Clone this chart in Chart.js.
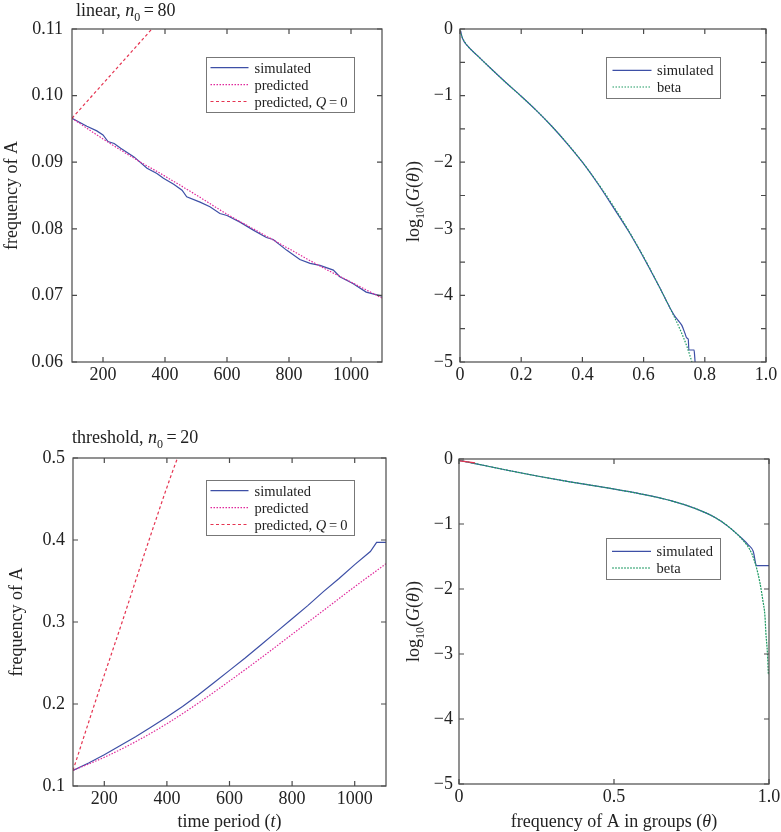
<!DOCTYPE html>
<html>
<head>
<meta charset="utf-8">
<title>frequency of A</title>
<script src="https://cdn.jsdelivr.net/npm/chart.js@4.4.1/dist/chart.umd.min.js"></script>
<style>
  body { margin: 0; background: #fff; }
  #wrap { position: relative; width: 781px; height: 832px; overflow: hidden; background: #fff; }
  #wrap canvas { position: absolute; }
</style>
</head>
<body>
<div id="wrap">
  <canvas id="cLin" width="390" height="410" style="left:0;top:0"></canvas>
  <canvas id="cLinG" width="391" height="410" style="left:390px;top:0"></canvas>
  <canvas id="cThr" width="390" height="422" style="left:0;top:410px"></canvas>
  <canvas id="cThrG" width="391" height="422" style="left:390px;top:410px"></canvas>
</div>
<script>
'use strict';

// =========================================
// DATA
// =========================================

// top-left: linear, n0 = 80  (time period t -> frequency of A)
var linSimT  = [100, 148, 180, 200, 216, 236, 257, 300, 342, 374, 395, 428, 455, 470, 513, 545, 577, 600, 642, 685, 727, 749, 792, 835, 868, 900, 943, 964, 1006, 1049, 1100];
var linSimF  = [0.0966, 0.0954, 0.0947, 0.0941, 0.0931, 0.0928, 0.0921, 0.0908, 0.0891, 0.0883, 0.0876, 0.0867, 0.0858, 0.0848, 0.0840, 0.0833, 0.0823, 0.0820, 0.0810, 0.0798, 0.0787, 0.0784, 0.0768, 0.0754, 0.0748, 0.0745, 0.0738, 0.0728, 0.0718, 0.0705, 0.0699];
var linPredT = [100, 200, 300, 400, 500, 600, 700, 800, 900, 1000, 1100];
var linPredF = [0.0966, 0.0935, 0.0906, 0.0879, 0.0851, 0.0822, 0.0796, 0.0770, 0.0744, 0.0720, 0.0696];
var linQ0T   = [100, 200, 300, 400];
var linQ0F   = [0.0966, 0.1018, 0.1070, 0.1122];

// top-right: log10(G(theta)) for the linear case
var linSimTh  = [0.002, 0.008, 0.024, 0.057, 0.1, 0.149, 0.2, 0.25, 0.3, 0.35, 0.4, 0.45, 0.5, 0.55, 0.6, 0.65, 0.7, 0.712, 0.725, 0.736, 0.741, 0.746, 0.748, 0.765, 0.767, 0.769];
var linSimG   = [-0.03, -0.14, -0.25, -0.40, -0.59, -0.80, -1.01, -1.225, -1.46, -1.72, -2.0, -2.32, -2.67, -3.03, -3.43, -3.86, -4.30, -4.37, -4.45, -4.58, -4.64, -4.66, -4.82, -4.82, -4.92, -5.05];
var linBetaTh = [0, 0.008, 0.024, 0.057, 0.1, 0.149, 0.2, 0.25, 0.3, 0.35, 0.4, 0.45, 0.5, 0.55, 0.6, 0.65, 0.7, 0.72, 0.741, 0.758];
var linBetaG  = [-0.03, -0.13, -0.25, -0.40, -0.59, -0.80, -1.01, -1.225, -1.46, -1.715, -2.0, -2.31, -2.65, -3.02, -3.42, -3.86, -4.32, -4.52, -4.76, -5.0];

// bottom-left: threshold, n0 = 20
var thrSimT  = [100, 150, 200, 250, 300, 350, 400, 450, 500, 550, 600, 650, 700, 750, 800, 850, 900, 950, 1000, 1050, 1070, 1100];
var thrSimF  = [0.119, 0.128, 0.138, 0.149, 0.160, 0.172, 0.184, 0.197, 0.211, 0.226, 0.241, 0.256, 0.272, 0.288, 0.304, 0.320, 0.337, 0.353, 0.370, 0.386, 0.397, 0.397];
var thrPredT = [100, 200, 300, 400, 500, 600, 700, 800, 900, 1000, 1100];
var thrPredF = [0.119, 0.135, 0.154, 0.176, 0.201, 0.228, 0.256, 0.285, 0.314, 0.343, 0.371];
var thrQ0T   = [100, 169, 257, 343, 434, 445];
var thrQ0F   = [0.119, 0.2, 0.3, 0.4, 0.5, 0.51];

// bottom-right: log10(G(theta)) for the threshold case
var thrSimTh  = [0, 0.052, 0.148, 0.256, 0.363, 0.492, 0.589, 0.686, 0.761, 0.826, 0.869, 0.912, 0.933, 0.949, 0.96, 1.0];
var thrSimG   = [-0.02, -0.07, -0.165, -0.265, -0.355, -0.455, -0.54, -0.645, -0.76, -0.9, -1.04, -1.22, -1.32, -1.42, -1.64, -1.64];
var thrBetaTh = [0, 0.052, 0.148, 0.256, 0.363, 0.492, 0.589, 0.686, 0.761, 0.826, 0.869, 0.912, 0.944, 0.96, 0.971, 0.98, 0.987, 0.99, 0.995, 0.998];
var thrBetaG  = [-0.02, -0.07, -0.165, -0.265, -0.355, -0.455, -0.54, -0.645, -0.76, -0.9, -1.04, -1.23, -1.45, -1.68, -1.91, -2.17, -2.42, -2.68, -2.99, -3.32];
var thrRedTh  = [0.003, 0.052];
var thrRedG   = [-0.03, -0.06];

// tick labels
var timeTicks    = [200, 400, 600, 800, 1000];
var linFreqTicks = [0.06, 0.07, 0.08, 0.09, 0.10, 0.11];
var thrFreqTicks = [0.1, 0.2, 0.3, 0.4, 0.5];
var thetaTicksFine   = [0, 0.2, 0.4, 0.6, 0.8, 1.0];
var thetaTicksCoarse = [0, 0.5, 1.0];
var logTicks     = [0, -1, -2, -3, -4, -5];
var logMarksHalf = [0, -0.5, -1, -1.5, -2, -2.5, -3, -3.5, -4, -4.5, -5];

// texts (t = text, i = italic, sub = subscript)
var titleLin = [{ t: 'linear, ' }, { t: 'n', i: 1 }, { t: '0', sub: 1 }, { t: '\u2009=\u200980' }];
var titleThr = [{ t: 'threshold, ' }, { t: 'n', i: 1 }, { t: '0', sub: 1 }, { t: '\u2009=\u200920' }];
var yTitleFreq  = [{ t: 'frequency of A' }];
var yTitleLog   = [{ t: 'log' }, { t: '10', sub: 1 }, { t: '(' }, { t: 'G', i: 1 }, { t: '(' }, { t: '\u03b8', i: 1 }, { t: '))' }];
var xTitleTime  = [{ t: 'time period (' }, { t: 't', i: 1 }, { t: ')' }];
var xTitleTheta = [{ t: 'frequency of A in groups (' }, { t: '\u03b8', i: 1 }, { t: ')' }];
var legSim   = [{ t: 'simulated' }];
var legPred  = [{ t: 'predicted' }];
var legPredQ = [{ t: 'predicted, ' }, { t: 'Q', i: 1 }, { t: '\u2009=\u20090' }];
var legBeta  = [{ t: 'beta' }];

// =========================================
// STYLE
// =========================================
var SERIF = '"Liberation Serif", "Times New Roman", "DejaVu Serif", serif';
var INK = '#222';
var FRAME = '#4a4a4a';
var C_SIM = '#3d4fa6';
var C_PRED = '#e0289b';
var C_Q0 = '#e53451';
var C_BETA = '#1d9a62';

function pts(xs, ys) {
    return xs.map(function(x, i) { return { x: x, y: ys[i] }; });
}

function series(label, xs, ys, color, dash, order, smooth) {
    return {
        label: label,
        data: pts(xs, ys),
        borderColor: color,
        borderDash: dash,
        borderWidth: 1.2,
        pointRadius: 0,
        tension: smooth ? 0.4 : 0,
        cubicInterpolationMode: smooth ? 'monotone' : 'default',
        fill: false,
        order: order
    };
}

function segFont(s, size) {
    return (s.i ? 'italic ' : '') + (s.sub ? Math.round(size * 0.68) : size) + 'px ' + SERIF;
}

// draws mixed italic / subscript text, baseline at (x, y)
function drawRich(ctx, segs, x, y, size, align, angle) {
    ctx.save();
    ctx.translate(x, y);
    if (angle) ctx.rotate(angle);
    ctx.textBaseline = 'alphabetic';
    ctx.textAlign = 'left';
    ctx.fillStyle = INK;
    var total = 0;
    segs.forEach(function(s) { ctx.font = segFont(s, size); total += ctx.measureText(s.t).width; });
    var cx = align === 'center' ? -total / 2 : 0;
    segs.forEach(function(s) {
        ctx.font = segFont(s, size);
        ctx.fillText(s.t, cx, s.sub ? size * 0.28 : 0);
        cx += ctx.measureText(s.t).width;
    });
    ctx.restore();
}

// =========================================
// FRAME / TICKS / LEGEND / TITLES PLUGIN
// =========================================
function framePlugin(cfg) {
    return {
        id: 'frame',
        afterDatasetsDraw: function(chart) {
            var ctx = chart.ctx, a = chart.chartArea;
            var xs = chart.scales.x, ys = chart.scales.y;
            var L = 5;

            ctx.save();
            ctx.strokeStyle = FRAME;
            ctx.lineWidth = 1.2;
            ctx.strokeRect(a.left, a.top, a.right - a.left, a.bottom - a.top);
            ctx.beginPath();
            cfg.xMarks.forEach(function(v) {
                var p = xs.getPixelForValue(v);
                ctx.moveTo(p, a.bottom); ctx.lineTo(p, a.bottom - L);
                ctx.moveTo(p, a.top); ctx.lineTo(p, a.top + L);
            });
            cfg.yMarks.forEach(function(v) {
                var p = ys.getPixelForValue(v);
                ctx.moveTo(a.left, p); ctx.lineTo(a.left + L, p);
                ctx.moveTo(a.right, p); ctx.lineTo(a.right - L, p);
            });
            ctx.stroke();

            // legend box
            var lg = cfg.legend;
            var bx = a.left + lg.left, by = a.top + lg.top;
            ctx.fillStyle = '#fff';
            ctx.fillRect(bx, by, lg.width, lg.height);
            ctx.strokeStyle = '#777';
            ctx.lineWidth = 1;
            ctx.strokeRect(Math.round(bx) + 0.5, Math.round(by) + 0.5, lg.width, lg.height);
            lg.items.forEach(function(item, i) {
                var ds = chart.data.datasets[item.ds];
                var ry = by + lg.firstRow + i * lg.rowGap;
                ctx.strokeStyle = ds.borderColor;
                ctx.lineWidth = ds.borderWidth;
                ctx.setLineDash(ds.borderDash || []);
                ctx.beginPath();
                ctx.moveTo(bx + lg.lineStart, ry);
                ctx.lineTo(bx + lg.lineStart + lg.lineLen, ry);
                ctx.stroke();
                ctx.setLineDash([]);
                drawRich(ctx, item.label, bx + lg.textX, ry + 5, 14.5, 'left', 0);
            });
            ctx.restore();

            // titles
            if (cfg.title) drawRich(ctx, cfg.title, cfg.titleX, cfg.titleY, 18, 'left', 0);
            drawRich(ctx, cfg.yTitle, cfg.yTitleX, (a.top + a.bottom) / 2 + (cfg.yTitleShift || 0), 18, 'center', -Math.PI / 2);
            if (cfg.xTitle) drawRich(ctx, cfg.xTitle, (a.left + a.right) / 2, cfg.xTitleY, 18, 'center', 0);
        }
    };
}

function axis(which, min, max, ticks, fmt, pad, size) {
    return {
        type: 'linear',
        min: min,
        max: max,
        grid: { display: false, drawTicks: false },
        border: { display: false },
        ticks: {
            color: INK,
            font: { family: SERIF, size: 18 },
            padding: pad,
            maxRotation: 0,
            autoSkip: false,
            callback: fmt
        },
        afterBuildTicks: function(s) {
            s.ticks = ticks.map(function(v) { return { value: v }; });
        },
        afterFit: function(s) {
            if (which === 'x') s.height = size; else s.width = size;
            s.paddingLeft = 0; s.paddingRight = 0; s.paddingTop = 0; s.paddingBottom = 0;
        }
    };
}

function makePanel(id, p) {
    return new Chart(document.getElementById(id), {
        type: 'line',
        data: { datasets: p.datasets },
        options: {
            responsive: false,
            animation: false,
            events: [],
            layout: { padding: { top: p.padTop, right: p.padRight, left: 0, bottom: 0 } },
            plugins: { legend: { display: false }, tooltip: { enabled: false } },
            scales: {
                x: axis('x', p.xMin, p.xMax, p.xTicks, p.xFmt, 2.5, p.xHeight),
                y: axis('y', p.yMin, p.yMax, p.yTicks, p.yFmt, p.yPad, p.yWidth)
            }
        },
        plugins: [framePlugin(p.frame)]
    });
}

function fmtInt(v) { return String(v); }
function fmt2(v) { return v.toFixed(2); }
function fmt1(v) { return v.toFixed(1); }
function fmtTheta(v) { return v === 0 ? '0' : v.toFixed(1); }
function fmtLog(v) { return v === 0 ? '0' : '\u2212' + Math.abs(v); }

var DOT = [1.5, 1.5];
var DOT_FINE = [2, 1];
var DASH = [3, 2.5];

// =========================================
// PANELS
// =========================================
makePanel('cLin', {
    datasets: [
        series('simulated', linSimT, linSimF, C_SIM, [], 2),
        series('predicted', linPredT, linPredF, C_PRED, DOT, 1, true),
        series('predicted, Q = 0', linQ0T, linQ0F, C_Q0, DASH, 0)
    ],
    padTop: 29, padRight: 8, xHeight: 48, yWidth: 72, yPad: 9,
    xMin: 100, xMax: 1100, xTicks: timeTicks, xFmt: fmtInt,
    yMin: 0.06, yMax: 0.11, yTicks: linFreqTicks, yFmt: fmt2,
    frame: {
        xMarks: timeTicks, yMarks: linFreqTicks,
        title: titleLin, titleX: 76, titleY: 16,
        yTitle: yTitleFreq, yTitleX: 16.5,
        legend: {
            left: 134, top: 28, width: 148, height: 55, firstRow: 10.7, rowGap: 16.9,
            lineStart: 4.5, lineLen: 38, textX: 48.5,
            items: [{ ds: 0, label: legSim }, { ds: 1, label: legPred }, { ds: 2, label: legPredQ }]
        }
    }
});

makePanel('cLinG', {
    datasets: [
        series('simulated', linSimTh, linSimG, C_SIM, [], 1, true),
        series('beta', linBetaTh, linBetaG, C_BETA, DOT, 0, true)
    ],
    padTop: 29, padRight: 15, xHeight: 48, yWidth: 70, yPad: 7,
    xMin: 0, xMax: 1, xTicks: thetaTicksFine, xFmt: fmtTheta,
    yMin: -5, yMax: 0, yTicks: logTicks, yFmt: fmtLog,
    frame: {
        xMarks: thetaTicksFine, yMarks: logMarksHalf,
        yTitle: yTitleLog, yTitleX: 29, yTitleShift: 6,
        legend: {
            left: 146, top: 28, width: 114, height: 41, firstRow: 13.4, rowGap: 16.6,
            lineStart: 6.5, lineLen: 39, textX: 51,
            items: [{ ds: 0, label: legSim }, { ds: 1, label: legBeta }]
        }
    }
});

makePanel('cThr', {
    datasets: [
        series('simulated', thrSimT, thrSimF, C_SIM, [], 2),
        series('predicted', thrPredT, thrPredF, C_PRED, DOT, 1, true),
        series('predicted, Q = 0', thrQ0T, thrQ0F, C_Q0, DASH, 0, true)
    ],
    padTop: 48, padRight: 4, xHeight: 46, yWidth: 73, yPad: 8,
    xMin: 100, xMax: 1100, xTicks: timeTicks, xFmt: fmtInt,
    yMin: 0.1, yMax: 0.5, yTicks: thrFreqTicks, yFmt: fmt1,
    frame: {
        xMarks: timeTicks, yMarks: thrFreqTicks,
        title: titleThr, titleX: 72, titleY: 33,
        yTitle: yTitleFreq, yTitleX: 21.5,
        xTitle: xTitleTime, xTitleY: 416.5,
        legend: {
            left: 133, top: 22, width: 148, height: 55, firstRow: 10.7, rowGap: 16.9,
            lineStart: 4.5, lineLen: 38, textX: 48.5,
            items: [{ ds: 0, label: legSim }, { ds: 1, label: legPred }, { ds: 2, label: legPredQ }]
        }
    }
});

makePanel('cThrG', {
    datasets: [
        series('simulated', thrSimTh, thrSimG, C_SIM, [], 1, true),
        series('beta', thrBetaTh, thrBetaG, C_BETA, DOT_FINE, 0, true),
        series('', thrRedTh, thrRedG, C_Q0, [], -1)
    ],
    padTop: 49, padRight: 12, xHeight: 48, yWidth: 69, yPad: 6,
    xMin: 0, xMax: 1, xTicks: thetaTicksCoarse, xFmt: fmtTheta,
    yMin: -5, yMax: 0, yTicks: logTicks, yFmt: fmtLog,
    frame: {
        xMarks: thetaTicksCoarse, yMarks: logTicks,
        yTitle: yTitleLog, yTitleX: 29,
        xTitle: xTitleTheta, xTitleY: 416.5,
        legend: {
            left: 146.5, top: 79, width: 114, height: 41, firstRow: 13.4, rowGap: 16.6,
            lineStart: 6.5, lineLen: 39, textX: 51,
            items: [{ ds: 0, label: legSim }, { ds: 1, label: legBeta }]
        }
    }
});
</script>
</body>
</html>
